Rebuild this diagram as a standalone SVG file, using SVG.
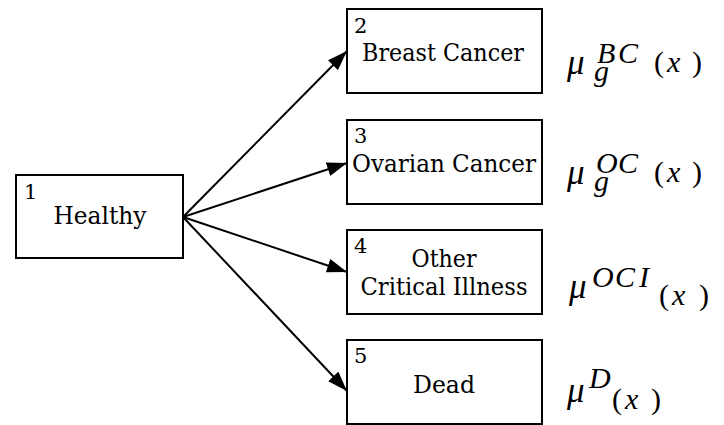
<svg xmlns="http://www.w3.org/2000/svg" width="724" height="425" viewBox="0 0 724 425">
<defs>
<marker id="ah" markerUnits="userSpaceOnUse" markerWidth="22" markerHeight="14" refX="20" refY="7" orient="auto">
<path d="M0,0 L20,7 L0,14 z" fill="#000"/>
</marker>
<style>
.box{fill:#fff;stroke:#000;stroke-width:2}
.lbl{font-family:"DejaVu Serif",serif;font-size:24.5px;fill:#000;text-anchor:middle}
.num{font-family:"DejaVu Serif",serif;font-size:21px;fill:#000}
.conn{stroke:#000;stroke-width:2;fill:none;marker-end:url(#ah)}
.m{font-family:"Liberation Serif",serif;font-size:30px;fill:#000}
.i{font-style:italic}
.mu{font-style:italic;font-size:35px}
</style>
</defs>
<rect width="724" height="425" fill="#fff"/>
<g id="connectors">
<line class="conn" x1="183" y1="217" x2="347" y2="51"/>
<line class="conn" x1="183" y1="217" x2="347" y2="163"/>
<line class="conn" x1="183" y1="217" x2="347" y2="272"/>
<line class="conn" x1="183" y1="217" x2="347" y2="391"/>
</g>
<g id="n1">
<rect class="box" x="16" y="175" width="167" height="83"/>
<text class="num" x="24" y="199">1</text>
<text class="lbl" x="100" y="224" textLength="93" lengthAdjust="spacingAndGlyphs">Healthy</text>
</g>
<g id="n2">
<rect class="box" x="347" y="9" width="195" height="84"/>
<text class="num" x="354" y="33">2</text>
<text class="lbl" x="443" y="61" textLength="162" lengthAdjust="spacingAndGlyphs">Breast Cancer</text>
</g>
<g id="n3">
<rect class="box" x="347" y="120" width="195" height="84"/>
<text class="num" x="354" y="143">3</text>
<text class="lbl" x="444" y="172" textLength="184" lengthAdjust="spacingAndGlyphs">Ovarian Cancer</text>
</g>
<g id="n4">
<rect class="box" x="347" y="230" width="195" height="84"/>
<text class="num" x="354" y="253">4</text>
<text class="lbl" x="444" y="267" textLength="65" lengthAdjust="spacingAndGlyphs">Other</text>
<text class="lbl" x="444" y="295" textLength="167" lengthAdjust="spacingAndGlyphs">Critical Illness</text>
</g>
<g id="n5">
<rect class="box" x="347" y="340" width="195" height="84"/>
<text class="num" x="354" y="363">5</text>
<text class="lbl" x="444" y="393" textLength="62" lengthAdjust="spacingAndGlyphs">Dead</text>
</g>
<g id="rate-bc">
<text class="m"><tspan class="mu" x="567" y="74">μ</tspan><tspan class="i" x="597" y="63">B</tspan><tspan class="i" x="618" y="63">C</tspan><tspan x="654" y="72">(</tspan><tspan class="i" x="667" y="72">x</tspan><tspan x="692" y="72">)</tspan><tspan class="i" x="594" y="81">g</tspan></text>
</g>
<g id="rate-oc">
<text class="m"><tspan class="mu" x="567" y="184">μ</tspan><tspan class="i" x="596" y="173">O</tspan><tspan class="i" x="618" y="173">C</tspan><tspan x="654" y="182">(</tspan><tspan class="i" x="667" y="182">x</tspan><tspan x="692" y="182">)</tspan><tspan class="i" x="594" y="191">g</tspan></text>
</g>
<g id="rate-oci">
<text class="m"><tspan class="mu" x="569" y="298">μ</tspan><tspan class="i" x="592" y="287">O</tspan><tspan class="i" x="615" y="287">C</tspan><tspan class="i" x="639" y="287">I</tspan><tspan x="659" y="305">(</tspan><tspan class="i" x="672" y="305">x</tspan><tspan x="699" y="305">)</tspan></text>
</g>
<g id="rate-d">
<text class="m"><tspan class="mu" x="567" y="402">μ</tspan><tspan class="i" x="589" y="388">D</tspan><tspan x="612" y="409">(</tspan><tspan class="i" x="625" y="409">x</tspan><tspan x="651" y="409">)</tspan></text>
</g>
</svg>
